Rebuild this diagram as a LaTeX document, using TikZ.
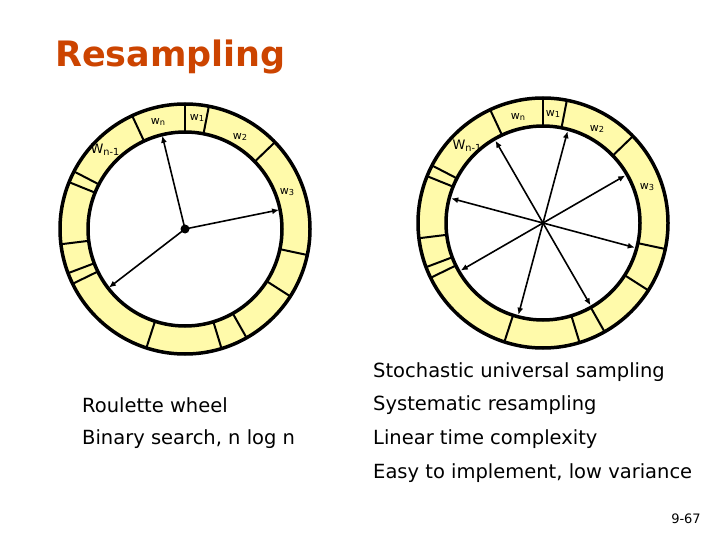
\documentclass[tikz,border=0pt]{standalone}
\usepackage{fontspec}
\setmainfont{DejaVu Sans}
\usetikzlibrary{arrows.meta}
\definecolor{ttl}{RGB}{204,68,0}
\definecolor{ring}{RGB}{255,250,170}
\newcommand{\sbs}[1]{\raisebox{-0.3ex}{\scalebox{0.75}{#1}}}
\begin{document}
\begin{tikzpicture}[x=1pt,y=-1pt,
  txt/.style={anchor=west,inner sep=0pt,font=\fontsize{19.5}{22}\selectfont},
  wl/.style={inner sep=0pt,font=\fontsize{11}{12}\selectfont},
  arr/.style={-{Latex[length=7pt,width=6pt]},line width=1.6pt}]
\useasboundingbox[fill=white] (0,0) rectangle (720,540);
\node[anchor=west,inner sep=0pt,text=ttl,font=\fontsize{35}{38}\bfseries\selectfont] (title) at (55,57) {Resampling};
\foreach \cx/\cy/\nm in {185/229/L,543/223/R}{
\begin{scope}[shift={(\cx,\cy)},yscale=-1]
  \fill[ring,even odd rule] (0,0) circle (125) (0,0) circle (97);
  \foreach \a in {90,79,44,-12,-32.6,-60.5,-73,-108,206,200.7,187,158,152.6,115}
    \draw[line width=2pt] (\a:97) -- (\a:125);
  \draw[line width=3.5pt] (0,0) circle (125) (0,0) circle (97);
  \coordinate (\nm c) at (0,0);
\end{scope}}
\begin{scope}[shift={(185,229)},yscale=-1]
  \foreach \a [count=\i] in {103.7,11.5,217.6}{
    \coordinate (La\i) at (\a:96);
    \draw[arr] (Lc) -- (La\i);}
  \fill (Lc) circle (4.5);
\end{scope}
\begin{scope}[shift={(543,223)},yscale=-1]
  \foreach \i in {0,...,7}{
    \coordinate (Ra\i) at ({75+45*\i}:95);
    \draw[arr] (Rc) -- (Ra\i);}
\end{scope}
\node[wl] (ln) at (158,122) {w\sbs{n}};
\node[wl] (l1) at (197,118) {w\sbs{1}};
\node[wl] (l2) at (240,137) {w\sbs{2}};
\node[wl,font=\fontsize{13}{13}\selectfont] (lm) at (105,150) {W\sbs{n-1}};
\node[wl] (l3) at (287,192) {w\sbs{3}};
\node[wl] (rn) at (518,117) {w\sbs{n}};
\node[wl] (r1) at (553,114) {w\sbs{1}};
\node[wl] (r2) at (597,129) {w\sbs{2}};
\node[wl,font=\fontsize{13}{13}\selectfont] (rm) at (467,146) {W\sbs{n-1}};
\node[wl] (r3) at (647,187) {w\sbs{3}};
\node[txt] (t1) at (373,372) {Stochastic universal sampling};
\node[txt] (t2) at (82,405) {Roulette wheel};
\node[txt] (t3) at (373,405) {Systematic resampling};
\node[txt] (t4) at (82,439) {Binary search, n log n};
\node[txt] (t5) at (373,439) {Linear time complexity};
\node[txt] (t6) at (373,473) {Easy to implement, low variance};
\node[inner sep=0pt,font=\fontsize{13}{14}\selectfont] (pg) at (686,519) {9-67};
\end{tikzpicture}
\end{document}
